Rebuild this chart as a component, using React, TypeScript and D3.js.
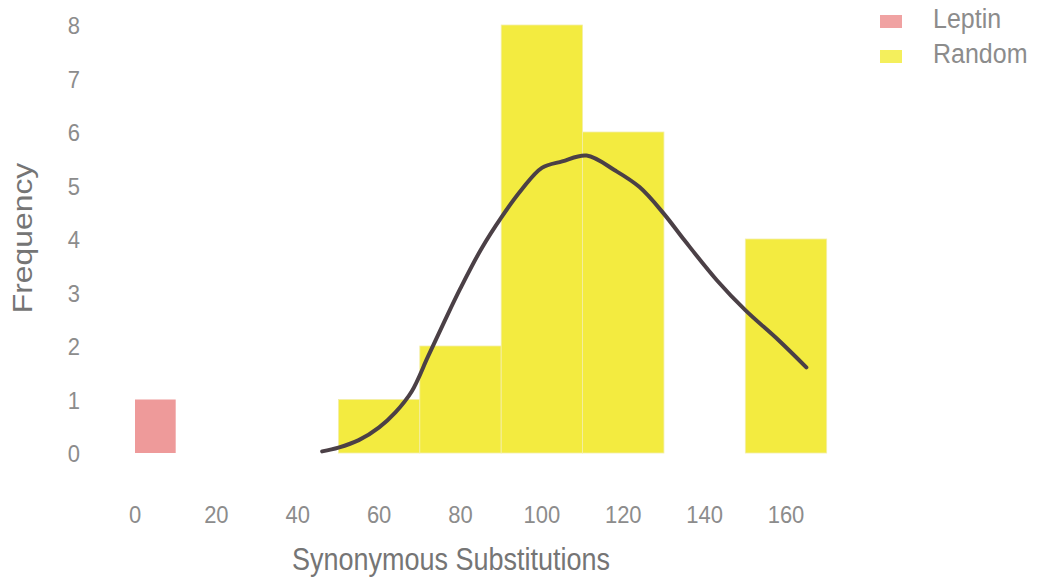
import React from "react";
import * as d3 from "d3";

const leptinBins = [{ x0: 0, x1: 10, count: 1 }];
const randomBinEdges = [50, 70, 90, 110, 130, 150, 170];
const randomCounts = [1, 2, 8, 6, 0, 4];
const xTicks = [0, 20, 40, 60, 80, 100, 120, 140, 160];
const yTicks = [0, 1, 2, 3, 4, 5, 6, 7, 8];
const densityX = [46, 50, 55, 60, 64, 68, 72, 76, 80, 85, 90, 95, 100, 105, 111, 118, 124, 130, 135, 143, 150, 158, 165];
const densityY = [0.03, 0.1, 0.24, 0.48, 0.76, 1.15, 1.8, 2.45, 3.08, 3.8, 4.4, 4.92, 5.33, 5.45, 5.56, 5.28, 4.97, 4.47, 3.98, 3.23, 2.67, 2.12, 1.6];
const legendItems = ["Leptin", "Random"];

const W = 1040;
const H = 578;

export default function App() {
  const x = d3.scaleLinear().domain([0, 160]).range([135, 786]);
  const y = d3.scaleLinear().domain([0, 8]).range([453, 25]);

  const randomBins = randomCounts.map((c, i) => ({ x0: randomBinEdges[i], x1: randomBinEdges[i + 1], count: c }));
  const pts: [number, number][] = densityX.map((v, i) => [v, densityY[i]]);
  const line = d3
    .line<[number, number]>()
    .x((d) => x(d[0]))
    .y((d) => y(d[1]))
    .curve(d3.curveCatmullRom.alpha(0.5));

  const leptinColor = "#EE9A9A";
  const randomColor = "#F3EB40";
  const legendColors = ["#F0A2A2", "#F4EF5C"];
  const font = "'Liberation Sans', Arial, Helvetica, sans-serif";

  return (
    <svg width={W} height={H} style={{ position: "absolute", left: 0, top: 0, background: "#ffffff" }}>
      <rect x={0} y={0} width={W} height={H} fill="#ffffff" />
      {leptinBins.map((b, i) => (
        <rect key={"l" + i} x={x(b.x0)} y={y(b.count)} width={x(b.x1) - x(b.x0)} height={y(0) - y(b.count)} fill={leptinColor} />
      ))}
      {randomBins
        .filter((b) => b.count > 0)
        .map((b, i) => (
          <rect
            key={"r" + i}
            x={x(b.x0)}
            y={y(b.count)}
            width={x(b.x1) - x(b.x0)}
            height={y(0) - y(b.count)}
            fill={randomColor}
            stroke="#f3eea8"
            strokeWidth={0.8}
          />
        ))}
      <path d={line(pts) || ""} fill="none" stroke="#4b4046" strokeWidth={4} strokeLinejoin="round" strokeLinecap="round" />
      {yTicks.map((t) => (
        <text
          key={"y" + t}
          transform={`translate(80,${y(t) + 9}) scale(1,1.12)`}
          textAnchor="end"
          fontFamily={font}
          fontSize={22}
          fill="#8c8c8c"
        >
          {t}
        </text>
      ))}
      {xTicks.map((t) => (
        <text
          key={"x" + t}
          transform={`translate(${x(t)},523) scale(1,1.12)`}
          textAnchor="middle"
          fontFamily={font}
          fontSize={22}
          fill="#8c8c8c"
        >
          {t}
        </text>
      ))}
      <text transform="translate(451,570) scale(1,1.15)" textAnchor="middle" fontFamily={font} fontSize={27} fill="#757575">
        Synonymous Substitutions
      </text>
      <text transform="translate(32,238) scale(1,1.18) rotate(-90)" textAnchor="middle" fontFamily={font} fontSize={27} fill="#757575">
        Frequency
      </text>
      {legendItems.map((name, i) => (
        <g key={name}>
          <rect x={880} y={15 + i * 35} width={22} height={13} fill={legendColors[i]} />
          <text transform={`translate(933,${28 + i * 35}) scale(1,1.12)`} fontFamily={font} fontSize={25} fill="#8c8c8c">
            {name}
          </text>
        </g>
      ))}
    </svg>
  );
}
